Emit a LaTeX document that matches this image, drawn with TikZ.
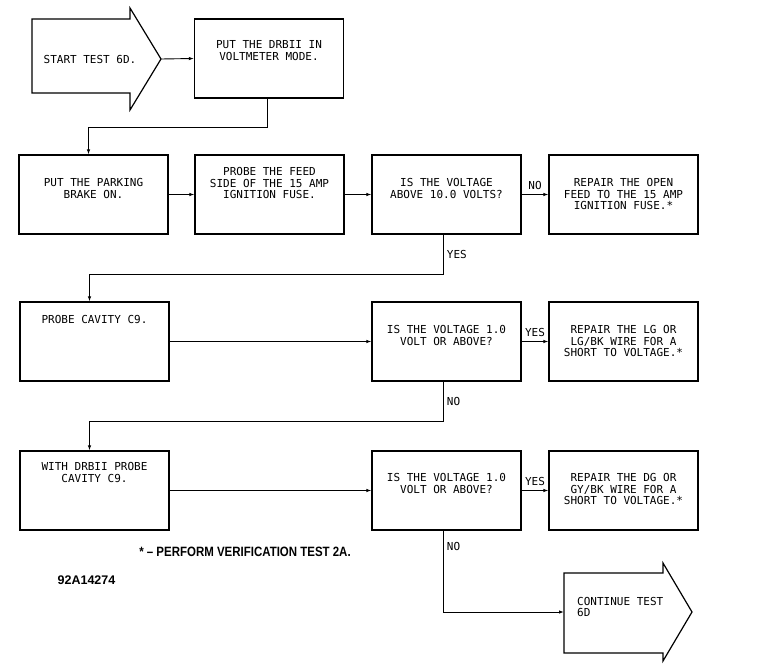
\documentclass[tikz,border=0pt]{standalone}
\usepackage{fontspec}
\usetikzlibrary{arrows.meta}
\newfontfamily\plotfont{DejaVu Sans Mono}
\newfontfamily\notefont[FakeStretch=0.85]{Liberation Sans}
\newfontfamily\codefont{Liberation Sans}

\begin{document}
\begin{tikzpicture}[x=1pt,y=1pt,
    box/.style={rectangle,draw,line width=1.2pt,minimum width=149pt,minimum height=79pt,inner sep=0pt},
    txt/.style={font=\plotfont\fontsize{11}{11.5}\selectfont,align=center,inner sep=0pt},
    lbl/.style={txt,anchor=north},
    arr/.style={line width=0.9pt,-{Latex[length=5pt,width=3.5pt]}}]
    \useasboundingbox (0,0) rectangle (763,-669);
    % start and end arrows
    \draw[line width=1.2pt] (32,-19) -- (130,-19) -- (130,-8) -- (161,-59) -- (130,-110) -- (130,-93) -- (32,-93) -- cycle;
    \node[txt] (start) at (90,-59) {START TEST 6D.};
    \coordinate (starttip) at (161,-59);
    \draw[line width=1.2pt] (564,-573) -- (663,-573) -- (663,-563) -- (692,-612) -- (663,-661) -- (663,-653) -- (564,-653) -- cycle;
    \node[txt,align=left,anchor=north west] (contin) at (577,-597) {CONTINUE TEST\\6D};
    \coordinate (continl) at (564,-612);
    % row 1
    \node[box,label={[lbl,label distance=-22pt]north:{PUT THE DRBII IN\\VOLTMETER MODE.}}] (drb) at (269,-58.5) {};
    % row 2
    \node[box,label={[lbl,label distance=-24pt]north:{PUT THE PARKING\\BRAKE ON.}}] (park) at (93.5,-194.5) {};
    \node[box,label={[lbl,label distance=-13pt]north:{PROBE THE FEED\\SIDE OF THE 15 AMP\\IGNITION FUSE.}}] (feed) at (269.5,-194.5) {};
    \node[box,label={[lbl,label distance=-24pt]north:{IS THE VOLTAGE\\ABOVE 10.0 VOLTS?}}] (volta) at (446.5,-194.5) {};
    \node[box,label={[lbl,label distance=-24pt]north:{REPAIR THE OPEN\\FEED TO THE 15 AMP\\IGNITION FUSE.*}}] (open) at (623.5,-194.5) {};
    % row 3
    \node[box,label={[lbl,label distance=-14pt]north:{PROBE CAVITY C9.}}] (cav) at (94.5,-341.5) {};
    \node[box,label={[lbl,label distance=-24pt]north:{IS THE VOLTAGE 1.0\\VOLT OR ABOVE?}}] (voltb) at (446.5,-341.5) {};
    \node[box,label={[lbl,label distance=-24pt]north:{REPAIR THE LG OR\\LG/BK WIRE FOR A\\SHORT TO VOLTAGE.*}}] (lgbk) at (623.5,-341.5) {};
    % row 4
    \node[box,label={[lbl,label distance=-12pt]north:{WITH DRBII PROBE\\CAVITY C9.}}] (cavb) at (94.5,-490.5) {};
    \node[box,label={[lbl,label distance=-23pt]north:{IS THE VOLTAGE 1.0\\VOLT OR ABOVE?}}] (voltc) at (446.5,-490.5) {};
    \node[box,label={[lbl,label distance=-23pt]north:{REPAIR THE DG OR\\GY/BK WIRE FOR A\\SHORT TO VOLTAGE.*}}] (dgbk) at (623.5,-490.5) {};
    % notes
    \node[font=\notefont\bfseries\fontsize{13.5}{14}\selectfont,inner sep=0pt] (note) at (245,-552) {* – PERFORM VERIFICATION TEST 2A.};
    \node[font=\codefont\bfseries\fontsize{12.5}{13}\selectfont,inner sep=0pt] (fig) at (86.5,-580) {92A14274};
    % connectors
    \draw[arr] (starttip) -- (drb.west);
    \draw[arr] ([xshift=-2pt]drb.south) -- ++(0,-29) -| ([xshift=-5pt]park.north);
    \draw[arr] (park.east) -- (feed.west);
    \draw[arr] (feed.east) -- (volta.west);
    \draw[arr] (volta.east) -- node[txt,above=4pt] {NO} (open.west);
    \draw[arr] ([xshift=-3pt]volta.south) -- ++(0,-40) node[txt,midway,right=3pt] {YES} -| ([xshift=-5pt]cav.north);
    \draw[arr] (cav.east) -- (voltb.west);
    \draw[arr] (voltb.east) -- node[txt,above=4pt] {YES} (lgbk.west);
    \draw[arr] ([xshift=-3pt]voltb.south) -- ++(0,-40) node[txt,midway,right=3pt] {NO} -| ([xshift=-5pt]cavb.north);
    \draw[arr] (cavb.east) -- (voltc.west);
    \draw[arr] (voltc.east) -- node[txt,above=4pt] {YES} (dgbk.west);
    \draw[arr] ([xshift=-3pt]voltc.south) |- node[txt,pos=0.1,right=3pt] {NO} (continl);
\end{tikzpicture}
\end{document}
